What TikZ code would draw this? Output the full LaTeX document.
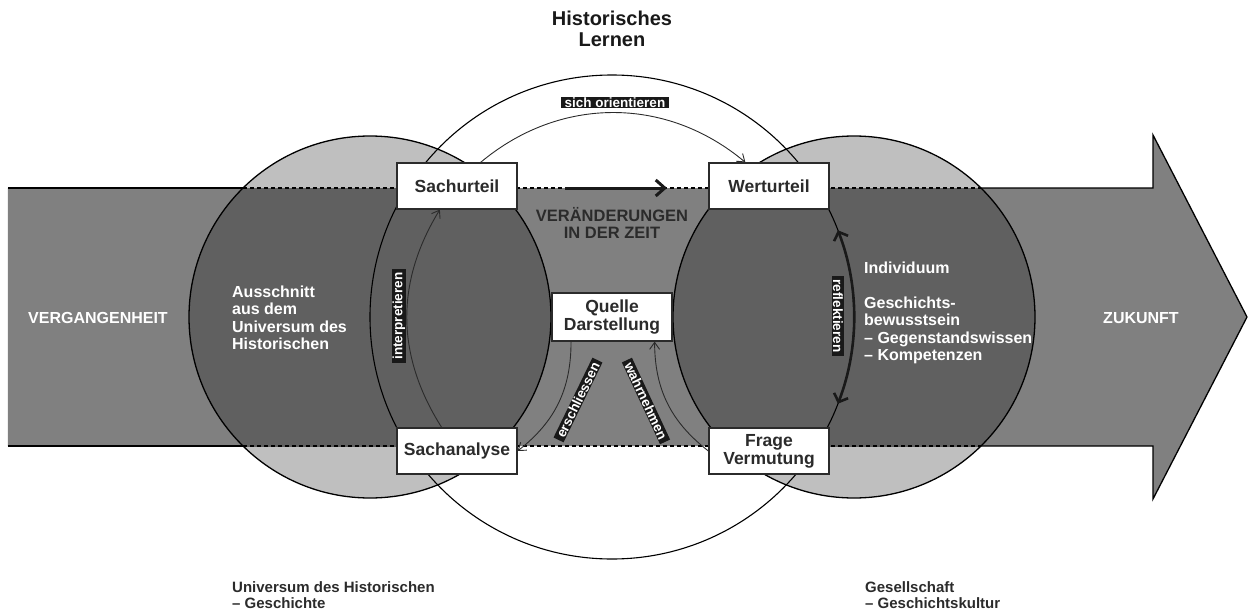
\documentclass[tikz,border=0pt]{standalone}
\usepackage{fontspec}
\setmainfont{Liberation Sans}
\usepackage{tikz}
\usetikzlibrary{arrows.meta}
\definecolor{bandgray}{gray}{0.5}
\definecolor{circlegray}{gray}{0.75}
\definecolor{overlapgray}{gray}{0.375}
\definecolor{inkgray}{gray}{0.17}
\definecolor{tagblack}{gray}{0.1}
\tikzset{
termbox/.style={draw=inkgray, line width=1.2pt, fill=white, text=inkgray, minimum width=120pt, minimum height=46pt, inner sep=0pt, align=center, font=\fontsize{17.5}{18}\selectfont\bfseries},
verbtag/.style={fill=tagblack, text=white, inner xsep=3.5pt, inner ysep=0.6pt, font=\fontsize{13.5}{13.5}\selectfont\bfseries},
areatext/.style={text=white, anchor=west, align=left, inner sep=0pt, font=\fontsize{16}{17.5}\selectfont\bfseries},
outertext/.style={text=inkgray, anchor=west, align=left, inner sep=0pt, font=\fontsize{15}{16.5}\selectfont\bfseries},
thinarrow/.style={draw=inkgray, line width=0.9pt, -{Straight Barb[length=7pt,width=10pt]}},
reflarrow/.style={draw=tagblack, line width=2.6pt, {Straight Barb[length=7pt,width=15pt]}-{Straight Barb[length=7pt,width=15pt]}},
changearrow/.style={draw=tagblack, line width=3pt, -{Straight Barb[length=9pt,width=16pt]}},
bandedge/.style={draw=black, line width=1.3pt}
}
\begin{document}
\begin{tikzpicture}[x=1pt,y=1pt]
\useasboundingbox (-612,-294) rectangle (636,317);
\fill[bandgray] (-604,129) -- (541,129) -- (541,182) -- (635,0) -- (541,-182) -- (541,-129) -- (-604,-129) -- cycle;
\fill[circlegray] (-242,0) circle[radius=181];
\fill[circlegray] (242,0) circle[radius=181];
\begin{scope}
\clip (-604,-129) rectangle (541,129);
\fill[overlapgray] (-242,0) circle[radius=181];
\fill[overlapgray] (242,0) circle[radius=181];
\end{scope}
\draw[bandedge] (-604,129) -- (-369,129);
\draw[bandedge] (-604,-129) -- (-369,-129);
\draw[bandedge, line join=miter] (369,129) -- (541,129) -- (541,182) -- (635,0) -- (541,-182) -- (541,-129) -- (369,-129);
\draw[bandedge, line width=1.2pt, dash pattern=on 4pt off 3pt] (-369,129) -- (369,129);
\draw[bandedge, line width=1.2pt, dash pattern=on 4pt off 3pt] (-369,-129) -- (369,-129);
\draw[line width=1.3pt] (-242,0) circle[radius=181];
\draw[line width=1.3pt] (242,0) circle[radius=181];
\draw[line width=1.1pt] (0,0) circle[radius=242];
\coordinate (changestart) at (-47,129);
\coordinate (changeend) at (55,129);
\draw[changearrow] (changestart) -- (changeend);
\coordinate (refltop) at (21:242);
\draw[reflarrow] (refltop) arc[start angle=21, end angle=-21, radius=242];
\node[termbox] (sachurteil) at (-155,131) {Sachurteil};
\node[termbox] (werturteil) at (157,131) {Werturteil};
\node[termbox] (sachanalyse) at (-155,-134) {Sachanalyse};
\node[termbox] (frage) at (157,-134) {Frage\\Vermutung};
\node[termbox, minimum height=48pt] (quelle) at (0,0) {Quelle\\Darstellung};
\draw[thinarrow] (sachurteil.45) to[bend left=40] (werturteil.135);
\draw[thinarrow] (sachanalyse.123) to[bend left=32] (sachurteil.234);
\draw[thinarrow] (quelle.211) to[bend left=26] (sachanalyse.east);
\draw[thinarrow] (frage.west) to[bend left=26] (quelle.330);
\node[verbtag] (orientieren) at (3,214.5) {sich orientieren};
\node[verbtag, rotate=90] (interpretieren) at (-213,1) {interpretieren};
\node[verbtag, rotate=-90] (reflektieren) at (226,1) {reflektieren};
\node[verbtag, rotate=64] (erschliessen) at (-34,-83) {erschliessen};
\node[verbtag, rotate=-65] (wahrnehmen) at (34,-84) {wahrnehmen};
\node[text=tagblack, align=center, inner sep=0pt, font=\fontsize{20}{21}\selectfont\bfseries] (titel) at (0,288.5) {Historisches\\Lernen};
\node[text=inkgray, align=center, inner sep=0pt, font=\fontsize{16.5}{17}\selectfont\bfseries] (veraenderung) at (0,94) {VERÄNDERUNGEN\\IN DER ZEIT};
\node[areatext] (vergangenheit) at (-584,-1) {VERGANGENHEIT};
\node[areatext, anchor=center] (zukunft) at (529,-1) {ZUKUNFT};
\node[areatext] (ausschnitt) at (-380,-1) {Ausschnitt\\aus dem\\Universum des\\Historischen};
\node[areatext] (individuum) at (252,4) {Individuum\\[17.5pt]Geschichts-\\bewusstsein\\– Gegenstandswissen\\– Kompetenzen};
\node[outertext] (universum) at (-380,-278) {Universum des Historischen\\– Geschichte};
\node[outertext] (gesellschaft) at (253,-278) {Gesellschaft\\– Geschichtskultur};
\end{tikzpicture}
\end{document}
